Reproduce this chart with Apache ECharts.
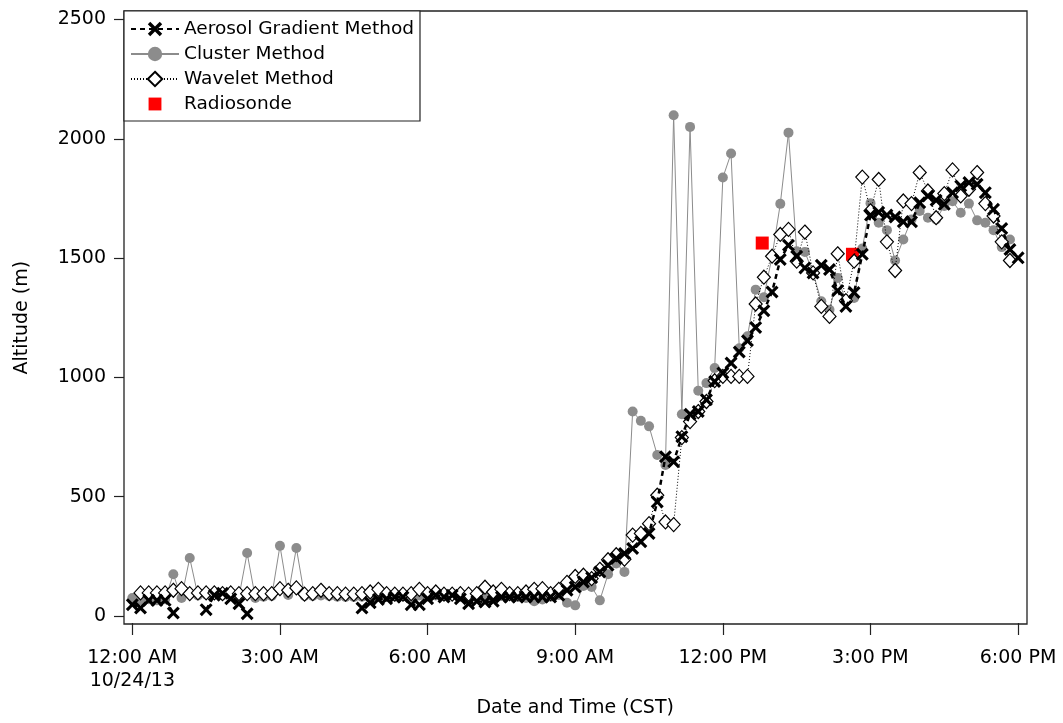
<!DOCTYPE html>
<html>
<head>
<meta charset="utf-8">
<script src="https://cdn.jsdelivr.net/npm/echarts@6/dist/echarts.min.js"></script>
<style>
html,body{margin:0;padding:0;background:#fff;}
#chart{width:1063px;height:723px;}
</style>
</head>
<body>
<div id="chart"></div>
<script>
// 10-minute samples starting 12:00 AM 10/24/13
const sampleMinutes = 10;
const xTickLabels = ['12:00 AM\n10/24/13', '3:00 AM', '6:00 AM', '9:00 AM', '12:00 PM', '3:00 PM', '6:00 PM'];

const aerosol = [52,38,70,70,70,17,null,null,null,31,91,100,77,56,14,
  null,null,null,null,null,null,null,null,null,null,null,null,null,
  38,60,74,77,84,84,52,52,77,91,84,91,77,56,66,63,66,84,84,84,84,84,84,84,91,112,126,
  147,165,189,217,245,266,287,315,350,482,671,650,755,849,860,909,986,1021,1063,1109,1156,1212,1282,1360,1496,1556,1510,1461,1440,1472,1454,1366,1300,1358,1518,1682,1694,1682,1674,1654,1654,1734,1762,1744,1727,1776,1804,1818,1811,1776,1706,1626,1538,1503];

const cluster = [80,70,75,70,75,179,80,247,90,95,95,90,92,85,268,80,85,88,298,92,289,
  88,88,90,88,85,84,84,85,88,84,84,86,86,84,90,88,90,92,90,86,88,90,92,90,88,88,84,80,66,74,85,92,60,49,
  130,126,70,179,224,189,860,821,798,678,636,2100,849,2051,947,979,1042,1839,1940,1125,1175,1370,1338,1510,1729,2027,1531,1528,1440,1321,1286,1419,1324,1335,1542,1732,1650,1619,1492,1580,1664,1699,1671,1664,1720,1740,1692,1730,1660,1650,1619,1548,1580,null];

const wavelet = [null,101,101,101,101,112,119,98,101,101,101,98,101,98,98,98,98,98,119,112,122,
  96,98,112,98,98,96,96,98,105,116,98,96,96,98,116,98,105,96,96,98,96,98,125,105,116,98,98,105,116,119,98,116,145,170,
  175,161,200,240,261,242,343,350,391,510,398,387,751,818,860,902,989,1007,1007,1007,1007,1310,1422,1510,1601,1622,1489,1611,1440,1300,1258,1520,1324,1489,1841,1700,1831,1570,1450,1741,1730,1860,1783,1671,1772,1871,1762,1790,1860,1730,1678,1570,1492,null];

const radiosondeTimes = ['12:48', '14:38'];
const radiosondeValues = [1565, 1518];

function toXY(arr) {
  return arr.map((v, i) => [i * sampleMinutes / 60, v]);
}
function hm(s) { const p = s.split(':'); return +p[0] + (+p[1]) / 60; }
const radiosonde = radiosondeTimes.map((t, i) => [hm(t), radiosondeValues[i]]);

const FONT = 'DejaVu Sans';
const xMark = 'path://M1.7,0 L5,3.3 L8.3,0 L10,1.7 L6.7,5 L10,8.3 L8.3,10 L5,6.7 L1.7,10 L0,8.3 L3.3,5 L0,1.7 Z';
const squareIcon = 'path://M-2,-2 L-2,-2 M0,0 L10,0 L10,10 L0,10 Z M12,12 L12,12';

const chart = echarts.init(document.getElementById('chart'), null, {renderer: 'canvas'});
chart.setOption({
  animation: false,
  backgroundColor: '#fff',
  grid: [
    {left: 124, top: 11, width: 903, height: 613, show: true, borderColor: '#222', borderWidth: 1.3, backgroundColor: 'transparent'},
    {left: 132.3, top: 11, width: 885.7, height: 613, show: false},
    {left: 124, top: 19.5, width: 903, height: 596.5, show: false}
  ],
  xAxis: [
    {gridIndex: 0, type: 'value', min: -0.169, max: 18.18, show: false},
    {gridIndex: 1, type: 'value', min: 0, max: 18, interval: 3, position: 'bottom',
      axisLine: {show: false},
      axisTick: {show: true, length: 12, inside: false, lineStyle: {color: '#222', width: 1.2}},
      splitLine: {show: false},
      axisLabel: {margin: 24, fontFamily: FONT, fontSize: 19, color: '#000', lineHeight: 23,
        formatter: v => xTickLabels[Math.round(v / 3)]},
      name: 'Date and Time (CST)', nameLocation: 'middle', nameGap: 76,
      nameTextStyle: {fontFamily: FONT, fontSize: 19, color: '#000'}},
    {gridIndex: 2, type: 'value', min: 0, max: 1, show: false}
  ],
  yAxis: [
    {gridIndex: 0, type: 'value', min: -29, max: 2536, show: false},
    {gridIndex: 1, type: 'value', min: 0, max: 1, show: false},
    {gridIndex: 2, type: 'value', min: 0, max: 2500, interval: 500, position: 'left',
      axisLine: {show: false},
      axisTick: {show: true, length: 10, inside: false, lineStyle: {color: '#222', width: 1.2}},
      splitLine: {show: false},
      axisLabel: {margin: 18, fontFamily: FONT, fontSize: 19, color: '#000', formatter: v => String(v)},
      name: 'Altitude (m)', nameLocation: 'middle', nameGap: 92,
      nameTextStyle: {fontFamily: FONT, fontSize: 19, color: '#000'}}
  ],
  legend: {
    left: 124, top: 11, orient: 'vertical',
    backgroundColor: '#fff', borderColor: '#222', borderWidth: 1.2,
    padding: [8, 6, 7, 6], itemGap: 5, itemWidth: 48, itemHeight: 18,
    textStyle: {fontFamily: FONT, fontSize: 18.5, color: '#000', lineHeight: 20},
    data: ['Aerosol Gradient Method', 'Cluster Method', 'Wavelet Method',
      {name: 'Radiosonde', icon: squareIcon}]
  },
  series: [
    {name: 'Cluster Method', type: 'line', xAxisIndex: 0, yAxisIndex: 0, z: 2,
      data: toXY(cluster), connectNulls: false,
      symbol: 'circle', symbolSize: 10, showAllSymbol: true,
      lineStyle: {color: '#8c8c8c', width: 1},
      itemStyle: {color: '#8c8c8c', borderWidth: 0}},
    {name: 'Radiosonde', type: 'scatter', xAxisIndex: 0, yAxisIndex: 0, z: 3,
      data: radiosonde, symbol: 'rect', symbolSize: 13,
      itemStyle: {color: '#ff0000', opacity: 1}},
    {name: 'Wavelet Method', type: 'line', xAxisIndex: 0, yAxisIndex: 0, z: 4,
      data: toXY(wavelet), connectNulls: false,
      symbol: 'diamond', symbolSize: [13, 14], showAllSymbol: true,
      lineStyle: {color: '#000', width: 1, type: [1, 2]},
      itemStyle: {color: '#fff', borderColor: '#000', borderWidth: 1.2}},
    {name: 'Aerosol Gradient Method', type: 'line', xAxisIndex: 0, yAxisIndex: 0, z: 5,
      data: toXY(aerosol), connectNulls: false,
      symbol: xMark, symbolSize: 13, showAllSymbol: true,
      lineStyle: {color: '#000', width: 2.5, type: [5, 4]},
      itemStyle: {color: '#000', borderWidth: 0}}
  ]
});
</script>
</body>
</html>
